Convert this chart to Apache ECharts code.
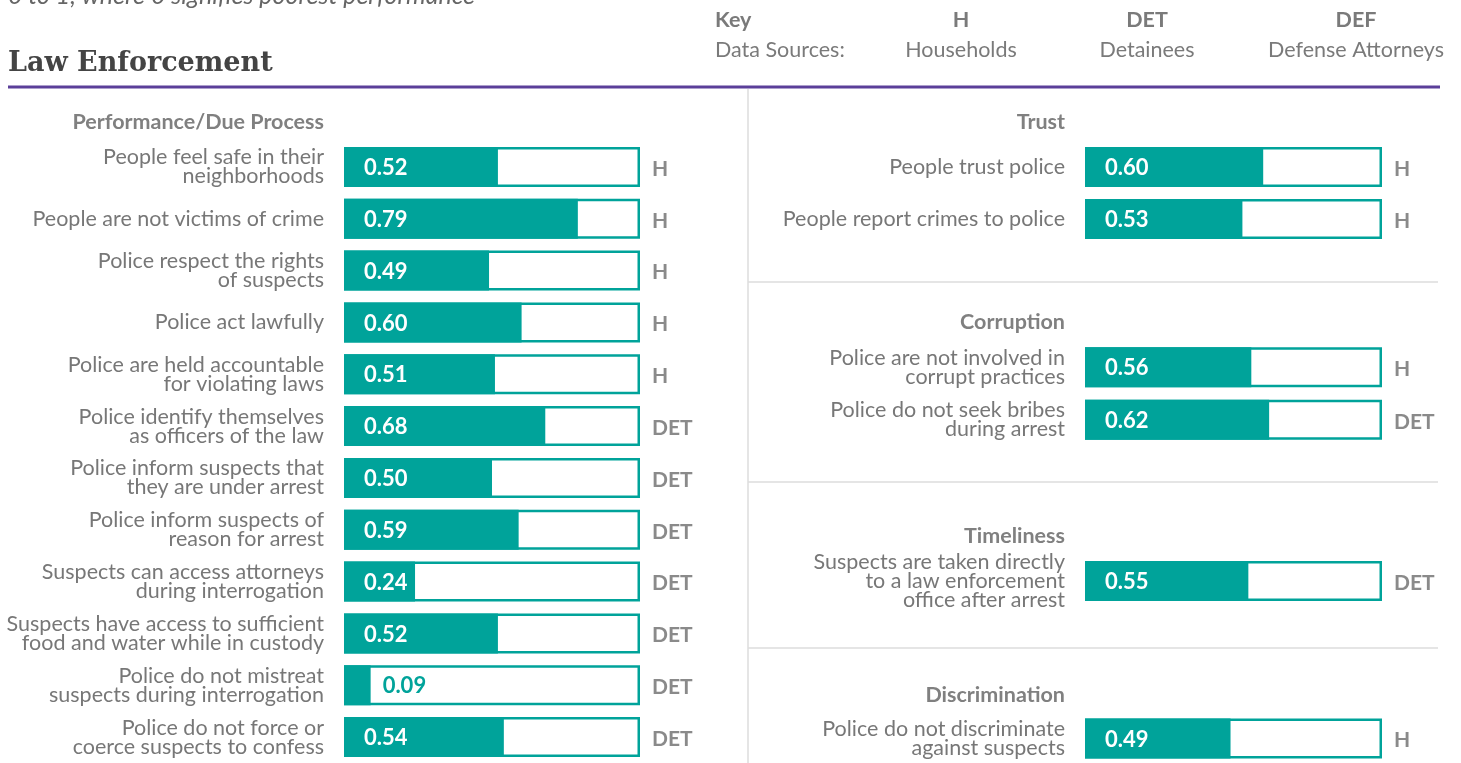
<!DOCTYPE html>
<html>
<head>
<meta charset="utf-8">
<script src="https://cdn.jsdelivr.net/npm/echarts@6/dist/echarts.min.js"></script>
<style>
html,body{margin:0;padding:0;background:#fff;}
#chart{width:1461px;height:763px;}
</style>
</head>
<body>
<div id="chart"></div>
<script>
// ---- data ----
const leftCategories = [
  'People feel safe in their\nneighborhoods',
  'People are not victims of crime',
  'Police respect the rights\nof suspects',
  'Police act lawfully',
  'Police are held accountable\nfor violating laws',
  'Police identify themselves\nas officers of the law',
  'Police inform suspects that\nthey are under arrest',
  'Police inform suspects of\nreason for arrest',
  'Suspects can access attorneys\nduring interrogation',
  'Suspects have access to sufficient\nfood and water while in custody',
  'Police do not mistreat\nsuspects during interrogation',
  'Police do not force or\ncoerce suspects to confess'
];
const leftValues = [0.52, 0.79, 0.49, 0.60, 0.51, 0.68, 0.50, 0.59, 0.24, 0.52, 0.09, 0.54];
const leftSources = ['H', 'H', 'H', 'H', 'H', 'DET', 'DET', 'DET', 'DET', 'DET', 'DET', 'DET'];

const trustCategories = ['People trust police', 'People report crimes to police'];
const trustValues = [0.60, 0.53];
const trustSources = ['H', 'H'];

const corruptionCategories = ['Police are not involved in\ncorrupt practices', 'Police do not seek bribes\nduring arrest'];
const corruptionValues = [0.56, 0.62];
const corruptionSources = ['H', 'DET'];

const timelinessCategories = ['Suspects are taken directly\nto a law enforcement\noffice after arrest'];
const timelinessValues = [0.55];
const timelinessSources = ['DET'];

const discriminationCategories = ['Police do not discriminate\nagainst suspects'];
const discriminationValues = [0.49];
const discriminationSources = ['H'];

const sectionTitles = ['Performance/Due Process', 'Trust', 'Corruption', 'Timeliness', 'Discrimination'];
const keyCodes = ['H', 'DET', 'DEF'];
const keyNames = ['Households', 'Detainees', 'Defense Attorneys'];

// ---- style ----
const TEAL = '#00a39a';
const GRAY = '#777777';
const FONT = 'Lato, "Open Sans", sans-serif';

const grids = [
  { left: 344, width: 296, top: 141, height: 627.6 },
  { left: 1085, width: 297, top: 141, height: 104 },
  { left: 1085, width: 297, top: 341, height: 105 },
  { left: 1085, width: 297, top: 555, height: 52 },
  { left: 1085, width: 297, top: 714, height: 52 }
];

const panels = [
  [leftCategories, leftValues, leftSources],
  [trustCategories, trustValues, trustSources],
  [corruptionCategories, corruptionValues, corruptionSources],
  [timelinessCategories, timelinessValues, timelinessSources],
  [discriminationCategories, discriminationValues, discriminationSources]
];

const xAxis = [], yAxis = [], series = [];
panels.forEach(([cats, vals, srcs], i) => {
  xAxis.push({ gridIndex: i, type: 'value', min: 0, max: 1, show: false });
  yAxis.push({
    gridIndex: i, type: 'category', data: cats, inverse: true,
    axisLine: { show: false }, axisTick: { show: false }, splitLine: { show: false },
    axisLabel: { margin: 20, color: GRAY, fontSize: 21.5, lineHeight: 19, fontFamily: FONT }
  });
  // full-scale outline box (0..1) carrying the data-source tag
  series.push({
    type: 'bar', xAxisIndex: i, yAxisIndex: i, barWidth: 40, silent: true, z: 1,
    data: cats.map(() => 1),
    itemStyle: { color: '#ffffff', borderColor: TEAL, borderWidth: 2.5 },
    label: {
      show: true, position: 'right', distance: 12, offset: [0, 2],
      formatter: p => srcs[p.dataIndex],
      color: '#8a8a8a', fontWeight: 'bold', fontSize: 21, fontFamily: FONT
    }
  });
  // value fill
  series.push({
    type: 'bar', xAxisIndex: i, yAxisIndex: i, barWidth: 40, barGap: '-100%', z: 2,
    data: vals.map(v => {
      const d = { value: v };
      if (v < 0.15) {
        d.label = { position: 'right', distance: 12, color: TEAL };
      }
      return d;
    }),
    itemStyle: { color: TEAL },
    label: {
      show: true, position: 'insideLeft', distance: 20, offset: [0, 1],
      formatter: p => p.value.toFixed(2),
      color: '#ffffff', fontWeight: 'bold', fontSize: 22, fontFamily: FONT
    }
  });
});

const titleStyle = { fill: '#808080', fontWeight: 'bold', fontSize: 21.5, fontFamily: FONT, textAlign: 'right', textVerticalAlign: 'middle' };
const sectionPos = [[324, 122], [1065, 122], [1065, 322], [1065, 536], [1065, 695]];
const graphic = [];
sectionTitles.forEach((t, i) => {
  graphic.push({ type: 'text', x: sectionPos[i][0], y: sectionPos[i][1], style: Object.assign({ text: t }, titleStyle) });
});
// header
graphic.push({ type: 'text', x: 8, y: 8, style: { text: '0 to 1, where 0 signifies poorest performance', fill: '#666', fontStyle: 'italic', fontSize: 25, fontFamily: FONT, textVerticalAlign: 'bottom' } });
graphic.push({ type: 'text', x: 8, y: 64, style: { text: 'Law Enforcement', fill: '#444444', fontWeight: 'bold', fontSize: 27, fontFamily: '"DejaVu Serif", serif', textVerticalAlign: 'middle' } });
graphic.push({ type: 'line', shape: { x1: 8, y1: 87, x2: 1440, y2: 87 }, style: { stroke: '#5b3f99', lineWidth: 3 } });
graphic.push({ type: 'line', shape: { x1: 748, y1: 89, x2: 748, y2: 763 }, style: { stroke: '#dcdcdc', lineWidth: 1.5 } });
[282, 482, 648].forEach(y => {
  graphic.push({ type: 'line', shape: { x1: 748, y1: y, x2: 1438, y2: y }, style: { stroke: '#dcdcdc', lineWidth: 1.5 } });
});
// key
const keyStyleB = { fill: '#7a7a7a', fontWeight: 'bold', fontSize: 21.5, fontFamily: FONT, textVerticalAlign: 'middle' };
const keyStyleN = { fill: '#7a7a7a', fontSize: 21.5, fontFamily: FONT, textVerticalAlign: 'middle' };
graphic.push({ type: 'text', x: 715, y: 20, style: Object.assign({ text: 'Key', textAlign: 'left' }, keyStyleB) });
graphic.push({ type: 'text', x: 715, y: 50, style: Object.assign({ text: 'Data Sources:', textAlign: 'left' }, keyStyleN) });
const keyX = [961, 1147, 1356];
keyCodes.forEach((c, i) => {
  graphic.push({ type: 'text', x: keyX[i], y: 20, style: Object.assign({ text: c, textAlign: 'center' }, keyStyleB) });
  graphic.push({ type: 'text', x: keyX[i], y: 50, style: Object.assign({ text: keyNames[i], textAlign: 'center' }, keyStyleN) });
});

const chart = echarts.init(document.getElementById('chart'));
chart.setOption({
  animation: false,
  backgroundColor: '#ffffff',
  grid: grids,
  xAxis, yAxis, series, graphic
});
</script>
</body>
</html>
